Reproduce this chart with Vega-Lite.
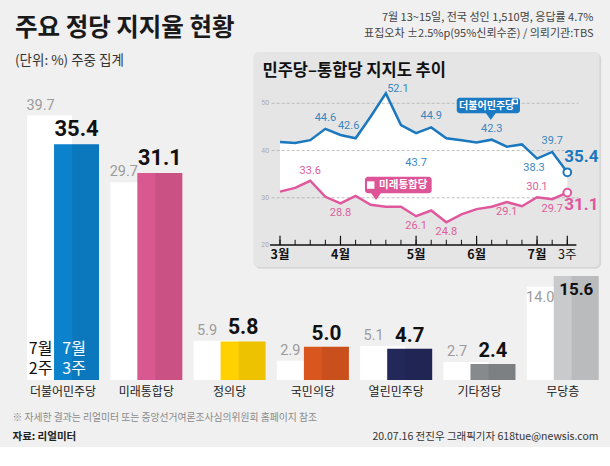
{
  "$schema": "https://vega.github.io/schema/vega-lite/v6.json",
  "width": 610,
  "height": 466,
  "autosize": "none",
  "padding": 0,
  "background": "#f0f0f0",
  "config": {"view": {"stroke": null}, "font": "Noto Sans CJK KR", "text": {"font": "Noto Sans CJK KR"}},
  "title": {
    "text": "주요 정당 지지율 현황",
    "subtitle": "(단위: %) 주중 집계",
    "anchor": "start",
    "frame": "group",
    "orient": "top",
    "offset": -68,
    "dx": 15,
    "font": "Noto Sans CJK KR",
    "fontSize": 24.5,
    "fontWeight": "bold",
    "color": "#1a1a1a",
    "subtitleFont": "Noto Sans CJK KR",
    "subtitleFontSize": 13.5,
    "subtitleFontWeight": "normal",
    "subtitleColor": "#333333",
    "subtitlePadding": 12
  },
  "datasets": {
    "bars": [
      {"party": "더불어민주당", "w2": 39.7, "w3": 35.4},
      {"party": "미래통합당", "w2": 29.7, "w3": 31.1},
      {"party": "정의당", "w2": 5.9, "w3": 5.8},
      {"party": "국민의당", "w2": 2.9, "w3": 5.0},
      {"party": "열린민주당", "w2": 5.1, "w3": 4.7},
      {"party": "기타정당", "w2": 2.7, "w3": 2.4},
      {"party": "무당층", "w2": 14.0, "w3": 15.6}
    ],
    "trend": [
      {"idx": 0, "minju": 41.8, "tonghap": 31.3},
      {"idx": 1, "minju": 41.6, "tonghap": 32.1},
      {"idx": 2, "minju": 42.2, "tonghap": 33.6},
      {"idx": 3, "minju": 44.6, "tonghap": 30.2},
      {"idx": 4, "minju": 43.3, "tonghap": 28.8},
      {"idx": 5, "minju": 42.6, "tonghap": 30.4},
      {"idx": 6, "minju": 47.2, "tonghap": 28.5},
      {"idx": 7, "minju": 52.1, "tonghap": 28.1},
      {"idx": 8, "minju": 45.4, "tonghap": 28.1},
      {"idx": 9, "minju": 43.7, "tonghap": 26.1},
      {"idx": 10, "minju": 44.9, "tonghap": 27.3},
      {"idx": 11, "minju": 42.6, "tonghap": 24.8},
      {"idx": 12, "minju": 42.2, "tonghap": 26.5},
      {"idx": 13, "minju": 41.7, "tonghap": 27.6},
      {"idx": 14, "minju": 42.3, "tonghap": 28.1},
      {"idx": 15, "minju": 40.8, "tonghap": 29.1},
      {"idx": 16, "minju": 41.3, "tonghap": 28.2},
      {"idx": 17, "minju": 38.3, "tonghap": 30.1},
      {"idx": 18, "minju": 39.7, "tonghap": 29.7},
      {"idx": 19, "minju": 35.4, "tonghap": 31.1}
    ],
    "months": [
      {"idx": 0, "label": "3월"},
      {"idx": 4, "label": "4월"},
      {"idx": 9, "label": "5월"},
      {"idx": 13, "label": "6월"},
      {"idx": 17, "label": "7월"},
      {"idx": 19, "label": "3주"}
    ],
    "grid": [{"v": 20}, {"v": 30}, {"v": 40}, {"v": 50}],
    "one": [{"a": 0}]
  },
  "resolve": {
    "scale": {"x": "independent", "y": "independent"},
    "axis": {"x": "independent", "y": "independent"}
  },
  "layer": [
    {
      "data": {"name": "bars"},
      "resolve": {"axis": {"x": "independent", "y": "independent"}},
      "layer": [
        {
          "data": {"name": "one"},
          "mark": {"type": "rect", "color": "#ffffff"},
          "encoding": {
            "y": {"datum": -10.06, "type": "quantitative", "scale": {"domain": [-12.913, 57.06], "nice": false, "zero": false},
              "axis": {"orient": "left", "labels": false, "ticks": false, "domain": false, "grid": false,
                "title": "자료: 리얼미터", "titleAngle": 0, "titleX": 12, "titleY": 436, "titleAlign": "left", "titleBaseline": "middle",
                "titleFont": "Noto Sans CJK KR", "titleFontSize": 10.5, "titleFontWeight": "bold", "titleColor": "#222222", "zindex": 1}},
            "y2": {"datum": -30}
          }
        },
        {
          "mark": {"type": "bar", "color": "#ffffff", "width": 45, "xOffset": -13.5},
          "encoding": {
            "x": {"field": "party", "type": "nominal", "sort": null,
              "scale": {"domain": ["더불어민주당", "미래통합당", "정의당", "국민의당", "열린민주당", "기타정당", "무당층"], "range": [21.4, 604.4], "paddingInner": 0, "paddingOuter": 0},
              "axis": {"orient": "bottom", "offset": -86, "domain": false, "ticks": false, "grid": false, "labelAngle": 0, "labelPadding": 6,
                "labelFont": "Noto Sans CJK KR", "labelFontSize": 12, "labelColor": "#222222",
                "title": "※ 자세한 결과는 리얼미터 또는 중앙선거여론조사심의위원회 홈페이지 참조", "titleX": 12, "titleY": 37, "titleAlign": "left", "titleBaseline": "middle",
                "titleFont": "Noto Sans CJK KR", "titleFontSize": 9.8, "titleFontWeight": "normal", "titleColor": "#8a8a8a", "zindex": 1}},
            "y": {"field": "w2", "type": "quantitative", "scale": {"domain": [-12.913, 57.06], "nice": false, "zero": false}, "axis": null}
          }
        },
        {
          "mark": {"type": "bar", "width": 45, "xOffset": 13.5},
          "encoding": {
            "x": {"field": "party", "type": "nominal", "sort": null, "axis": null},
            "y": {"field": "w3", "type": "quantitative", "axis": null},
            "color": {"field": "party", "type": "nominal", "legend": null,
              "scale": {"domain": ["더불어민주당", "미래통합당", "정의당", "국민의당", "열린민주당", "기타정당", "무당층"],
                "range": ["#0c82cc", "#d9588f", "#ffd100", "#d9561f", "#23285b", "#878a8c", "#c9cacc"]}}
          }
        },
        {
          "mark": {"type": "bar", "width": 27, "xOffset": 22.5, "color": "#000000", "opacity": 0.07},
          "encoding": {
            "x": {"field": "party", "type": "nominal", "sort": null, "axis": null},
            "y": {"field": "w3", "type": "quantitative", "axis": null}
          }
        },
        {
          "transform": [{"filter": "datum.party !== '무당층'"}],
          "mark": {"type": "text", "xOffset": -22.5, "dy": -3, "baseline": "bottom", "font": "Roboto", "fontSize": 14.5, "color": "#9b9b9b"},
          "encoding": {
            "x": {"field": "party", "type": "nominal", "sort": null, "axis": null},
            "y": {"field": "w2", "type": "quantitative", "axis": null},
            "text": {"field": "w2", "type": "quantitative", "format": ".1f"}
          }
        },
        {
          "transform": [{"filter": "datum.party === '무당층'"}],
          "mark": {"type": "text", "xOffset": -22.5, "dy": 4, "baseline": "top", "font": "Roboto", "fontSize": 14.5, "color": "#9b9b9b"},
          "encoding": {
            "x": {"field": "party", "type": "nominal", "sort": null, "axis": null},
            "y": {"field": "w2", "type": "quantitative", "axis": null},
            "text": {"field": "w2", "type": "quantitative", "format": ".1f"}
          }
        },
        {
          "transform": [{"filter": "datum.party !== '무당층'"}],
          "mark": {"type": "text", "xOffset": 13.5, "dy": -3, "baseline": "bottom", "font": "Roboto", "fontWeight": "bold", "color": "#111111"},
          "encoding": {
            "x": {"field": "party", "type": "nominal", "sort": null, "axis": null},
            "y": {"field": "w3", "type": "quantitative", "axis": null},
            "text": {"field": "w3", "type": "quantitative", "format": ".1f"},
            "size": {"field": "party", "type": "ordinal", "legend": null,
              "scale": {"domain": ["더불어민주당", "미래통합당", "정의당", "국민의당", "열린민주당", "기타정당"], "range": [22, 20, 17, 17, 17, 17]}}
          }
        },
        {
          "transform": [{"filter": "datum.party === '무당층'"}],
          "mark": {"type": "text", "xOffset": 13.5, "dy": 6, "baseline": "top", "font": "Roboto", "fontWeight": "bold", "fontSize": 17, "color": "#111111"},
          "encoding": {
            "x": {"field": "party", "type": "nominal", "sort": null, "axis": null},
            "y": {"field": "w3", "type": "quantitative", "axis": null},
            "text": {"field": "w3", "type": "quantitative", "format": ".1f"}
          }
        },
        {
          "transform": [{"filter": "datum.party === '더불어민주당'"}],
          "mark": {"type": "text", "xOffset": -22.5, "dy": -23, "baseline": "bottom", "lineHeight": 20, "fontSize": 16, "color": "#111111", "text": ["7월", "2주"]},
          "encoding": {
            "x": {"field": "party", "type": "nominal", "sort": null, "axis": null},
            "y": {"datum": 0, "type": "quantitative", "axis": null}
          }
        },
        {
          "transform": [{"filter": "datum.party === '더불어민주당'"}],
          "mark": {"type": "text", "xOffset": 11, "dy": -23, "baseline": "bottom", "lineHeight": 20, "fontSize": 16, "color": "#ffffff", "text": ["7월", "3주"]},
          "encoding": {
            "x": {"field": "party", "type": "nominal", "sort": null, "axis": null},
            "y": {"datum": 0, "type": "quantitative", "axis": null}
          }
        }
      ]
    },
    {
      "data": {"name": "trend"},
      "resolve": {"axis": {"x": "independent", "y": "independent"}},
      "layer": [
        {
          "data": {"name": "one"},
          "mark": {"type": "rect", "color": "#d6d6d6", "cornerRadius": 6},
          "encoding": {
            "x": {"datum": -1.68, "type": "quantitative", "scale": {"domain": [0, 19], "range": [280, 567.3], "nice": false, "zero": false},
              "axis": {"orient": "top", "labels": false, "ticks": false, "domain": false, "grid": false,
                "title": "20.07.16 전진우 그래픽기자 618tue@newsis.com", "titleX": 598, "titleY": 436, "titleAlign": "right", "titleBaseline": "middle",
                "titleFont": "Noto Sans CJK KR", "titleFontSize": 10.5, "titleFontWeight": "normal", "titleColor": "#333333", "zindex": 1}},
            "x2": {"datum": 21.24},
            "y": {"datum": 60.7, "type": "quantitative", "scale": {"domain": [20, 50], "range": [245, 103.3], "nice": false, "zero": false},
              "axis": {"orient": "right", "labels": false, "ticks": false, "domain": false, "grid": false,
                "title": "민주당–통합당 지지도 추이", "titleAngle": 0, "titleX": -348, "titleY": 70, "titleAlign": "left", "titleBaseline": "middle",
                "titleFont": "Noto Sans CJK KR", "titleFontSize": 16.5, "titleFontWeight": "bold", "titleColor": "#111111", "zindex": 1}},
            "y2": {"datum": 14.95}
          }
        },
        {
          "data": {"name": "one"},
          "mark": {"type": "rect", "color": "#e5e5e5", "cornerRadius": 5},
          "encoding": {
            "x": {"datum": -1.766, "type": "quantitative", "axis": null},
            "x2": {"datum": 21.12},
            "y": {"datum": 60.87, "type": "quantitative", "axis": null},
            "y2": {"datum": 15.34}
          }
        },
        {
          "mark": {"type": "area", "color": "#ffffff", "opacity": 1},
          "encoding": {
            "x": {"field": "idx", "type": "quantitative", "axis": null},
            "y": {"field": "minju", "type": "quantitative", "axis": null},
            "y2": {"field": "tonghap"}
          }
        },
        {
          "data": {"name": "grid"},
          "transform": [{"filter": "datum.v > 20"}],
          "mark": {"type": "rule", "color": "#b0b0b0", "strokeWidth": 0.8, "strokeDash": [3, 2]},
          "encoding": {
            "x": {"datum": -0.55, "type": "quantitative", "axis": null},
            "x2": {"datum": 19.74},
            "y": {"field": "v", "type": "quantitative", "axis": null}
          }
        },
        {
          "data": {"name": "grid"},
          "mark": {"type": "text", "align": "right", "fontSize": 7, "color": "#aaaaaa", "font": "Roboto"},
          "encoding": {
            "x": {"datum": -0.72, "type": "quantitative", "axis": null},
            "y": {"field": "v", "type": "quantitative", "axis": null},
            "text": {"field": "v", "type": "quantitative"}
          }
        },
        {
          "data": {"name": "one"},
          "mark": {"type": "rule", "color": "#111111", "strokeWidth": 1.3},
          "encoding": {
            "x": {"datum": -0.66, "type": "quantitative", "axis": null},
            "x2": {"datum": 19.6},
            "y": {"datum": 20, "type": "quantitative", "axis": null}
          }
        },
        {
          "mark": {"type": "rule", "color": "#111111", "strokeWidth": 1},
          "encoding": {
            "x": {"field": "idx", "type": "quantitative", "axis": null},
            "y": {"datum": 20, "type": "quantitative", "axis": null},
            "y2": {"datum": 21.1}
          }
        },
        {
          "data": {"name": "months"},
          "mark": {"type": "rule", "color": "#111111", "strokeWidth": 1.2},
          "encoding": {
            "x": {"field": "idx", "type": "quantitative", "axis": null},
            "y": {"datum": 20, "type": "quantitative", "axis": null},
            "y2": {"datum": 21.95}
          }
        },
        {
          "data": {"name": "months"},
          "transform": [{"filter": "datum.label !== '3주'"}],
          "mark": {"type": "text", "baseline": "middle", "dy": 9.5, "fontSize": 12.5, "fontWeight": "bold", "color": "#111111"},
          "encoding": {
            "x": {"field": "idx", "type": "quantitative", "axis": null},
            "y": {"datum": 20, "type": "quantitative", "axis": null},
            "text": {"field": "label"}
          }
        },
        {
          "data": {"name": "months"},
          "transform": [{"filter": "datum.label === '3주'"}],
          "mark": {"type": "text", "baseline": "middle", "dy": 9.5, "fontSize": 12.5, "fontWeight": "normal", "color": "#111111"},
          "encoding": {
            "x": {"field": "idx", "type": "quantitative", "axis": null},
            "y": {"datum": 20, "type": "quantitative", "axis": null},
            "text": {"field": "label"}
          }
        },
        {
          "mark": {"type": "line", "color": "#1b78be", "strokeWidth": 2.5},
          "encoding": {
            "x": {"field": "idx", "type": "quantitative", "axis": null},
            "y": {"field": "minju", "type": "quantitative", "axis": null}
          }
        },
        {
          "mark": {"type": "line", "color": "#e0579d", "strokeWidth": 2.5},
          "encoding": {
            "x": {"field": "idx", "type": "quantitative", "axis": null},
            "y": {"field": "tonghap", "type": "quantitative", "axis": null}
          }
        },
        {
          "transform": [{"filter": "datum.idx === 19"}],
          "mark": {"type": "point", "filled": true, "fill": "#ffffff", "stroke": "#1b78be", "strokeWidth": 2, "size": 60, "opacity": 1},
          "encoding": {
            "x": {"field": "idx", "type": "quantitative", "axis": null},
            "y": {"field": "minju", "type": "quantitative", "axis": null}
          }
        },
        {
          "transform": [{"filter": "datum.idx === 19"}],
          "mark": {"type": "point", "filled": true, "fill": "#ffffff", "stroke": "#e0579d", "strokeWidth": 2, "size": 60, "opacity": 1},
          "encoding": {
            "x": {"field": "idx", "type": "quantitative", "axis": null},
            "y": {"field": "tonghap", "type": "quantitative", "axis": null}
          }
        },
        {
          "transform": [{"filter": {"field": "idx", "oneOf": [3, 10, 14, 18]}}],
          "mark": {"type": "text", "dy": -11, "fontSize": 11, "color": "#3a86c0", "font": "Roboto"},
          "encoding": {
            "x": {"field": "idx", "type": "quantitative", "axis": null},
            "y": {"field": "minju", "type": "quantitative", "axis": null},
            "text": {"field": "minju", "type": "quantitative", "format": ".1f"}
          }
        },
        {
          "transform": [{"filter": "datum.idx === 5"}],
          "mark": {"type": "text", "dy": -12, "dx": -7, "fontSize": 11, "color": "#3a86c0", "font": "Roboto"},
          "encoding": {
            "x": {"field": "idx", "type": "quantitative", "axis": null},
            "y": {"field": "minju", "type": "quantitative", "axis": null},
            "text": {"field": "minju", "type": "quantitative", "format": ".1f"}
          }
        },
        {
          "transform": [{"filter": "datum.idx === 7"}],
          "mark": {"type": "text", "dy": -4, "dx": 12, "fontSize": 11, "color": "#3a86c0", "font": "Roboto"},
          "encoding": {
            "x": {"field": "idx", "type": "quantitative", "axis": null},
            "y": {"field": "minju", "type": "quantitative", "axis": null},
            "text": {"field": "minju", "type": "quantitative", "format": ".1f"}
          }
        },
        {
          "transform": [{"filter": "datum.idx === 17"}],
          "mark": {"type": "text", "dy": 9, "dx": -3, "fontSize": 11, "color": "#3a86c0", "font": "Roboto"},
          "encoding": {
            "x": {"field": "idx", "type": "quantitative", "axis": null},
            "y": {"field": "minju", "type": "quantitative", "axis": null},
            "text": {"field": "minju", "type": "quantitative", "format": ".1f"}
          }
        },
        {
          "transform": [{"filter": "datum.idx === 9"}],
          "mark": {"type": "text", "dy": 30, "fontSize": 11, "color": "#3a86c0", "font": "Roboto"},
          "encoding": {
            "x": {"field": "idx", "type": "quantitative", "axis": null},
            "y": {"field": "minju", "type": "quantitative", "axis": null},
            "text": {"field": "minju", "type": "quantitative", "format": ".1f"}
          }
        },
        {
          "transform": [{"filter": {"field": "idx", "oneOf": [2, 17]}}],
          "mark": {"type": "text", "dy": -10, "fontSize": 11, "color": "#df5d9c", "font": "Roboto"},
          "encoding": {
            "x": {"field": "idx", "type": "quantitative", "axis": null},
            "y": {"field": "tonghap", "type": "quantitative", "axis": null},
            "text": {"field": "tonghap", "type": "quantitative", "format": ".1f"}
          }
        },
        {
          "transform": [{"filter": {"field": "idx", "oneOf": [4, 9, 11, 15, 18]}}],
          "mark": {"type": "text", "dy": 10, "fontSize": 11, "color": "#df5d9c", "font": "Roboto"},
          "encoding": {
            "x": {"field": "idx", "type": "quantitative", "axis": null},
            "y": {"field": "tonghap", "type": "quantitative", "axis": null},
            "text": {"field": "tonghap", "type": "quantitative", "format": ".1f"}
          }
        },
        {
          "transform": [{"filter": "datum.idx === 19"}],
          "mark": {"type": "text", "dy": -15, "dx": 14, "fontSize": 17, "fontWeight": "bold", "color": "#1b78be", "font": "Roboto"},
          "encoding": {
            "x": {"field": "idx", "type": "quantitative", "axis": null},
            "y": {"field": "minju", "type": "quantitative", "axis": null},
            "text": {"field": "minju", "type": "quantitative", "format": ".1f"}
          }
        },
        {
          "transform": [{"filter": "datum.idx === 19"}],
          "mark": {"type": "text", "dy": 12, "dx": 14, "fontSize": 17, "fontWeight": "bold", "color": "#e0579d", "font": "Roboto"},
          "encoding": {
            "x": {"field": "idx", "type": "quantitative", "axis": null},
            "y": {"field": "tonghap", "type": "quantitative", "axis": null},
            "text": {"field": "tonghap", "type": "quantitative", "format": ".1f"}
          }
        },
        {
          "data": {"name": "one"},
          "mark": {"type": "rect", "color": "#1a7ac3", "cornerRadius": 3},
          "encoding": {
            "x": {"datum": 11.69, "type": "quantitative", "axis": null},
            "x2": {"datum": 15.87},
            "y": {"datum": 51.19, "type": "quantitative", "axis": null},
            "y2": {"datum": 47.88}
          }
        },
        {
          "data": {"name": "one"},
          "mark": {"type": "point", "shape": "M-1,-0.7L1,-0.7L0,0.7Z", "size": 100, "filled": true, "color": "#1a7ac3", "opacity": 1},
          "encoding": {
            "x": {"datum": 13.94, "type": "quantitative", "axis": null},
            "y": {"datum": 47.2, "type": "quantitative", "axis": null}
          }
        },
        {
          "data": {"name": "one"},
          "mark": {"type": "text", "text": "더불어민주당", "fontSize": 10, "fontWeight": "bold", "color": "#ffffff"},
          "encoding": {
            "x": {"datum": 13.67, "type": "quantitative", "axis": null},
            "y": {"datum": 49.5, "type": "quantitative", "axis": null}
          }
        },
        {
          "data": {"name": "one"},
          "mark": {"type": "point", "shape": "square", "size": 20, "filled": false, "stroke": "#ffffff", "strokeWidth": 1.2, "opacity": 1},
          "encoding": {
            "x": {"datum": 15.55, "type": "quantitative", "axis": null},
            "y": {"datum": 50.4, "type": "quantitative", "axis": null}
          }
        },
        {
          "data": {"name": "one"},
          "mark": {"type": "rect", "color": "#dd5597", "cornerRadius": 3},
          "encoding": {
            "x": {"datum": 5.62, "type": "quantitative", "axis": null},
            "x2": {"datum": 10.03},
            "y": {"datum": 34.45, "type": "quantitative", "axis": null},
            "y2": {"datum": 30.93}
          }
        },
        {
          "data": {"name": "one"},
          "mark": {"type": "point", "shape": "M-1,-0.7L1,-0.7L0,0.7Z", "size": 100, "filled": true, "color": "#dd5597", "opacity": 1},
          "encoding": {
            "x": {"datum": 6.35, "type": "quantitative", "axis": null},
            "y": {"datum": 30.25, "type": "quantitative", "axis": null}
          }
        },
        {
          "data": {"name": "one"},
          "mark": {"type": "point", "shape": "square", "size": 55, "filled": true, "color": "#ffffff", "opacity": 1},
          "encoding": {
            "x": {"datum": 6.0, "type": "quantitative", "axis": null},
            "y": {"datum": 32.69, "type": "quantitative", "axis": null}
          }
        },
        {
          "data": {"name": "one"},
          "mark": {"type": "text", "text": "미래통합당", "fontSize": 10.5, "fontWeight": "bold", "color": "#ffffff"},
          "encoding": {
            "x": {"datum": 8.15, "type": "quantitative", "axis": null},
            "y": {"datum": 32.69, "type": "quantitative", "axis": null}
          }
        }
      ]
    },
    {
      "data": {"name": "one"},
      "mark": {"type": "text", "text": ""},
      "encoding": {
        "x": {"field": "a", "type": "quantitative", "axis": null},
        "y": {"field": "a", "type": "quantitative",
          "axis": {"orient": "left", "labels": false, "ticks": false, "domain": false, "grid": false,
            "title": ["7월 13~15일, 전국 성인 1,510명, 응답률 4.7%", "표집오차 ±2.5%p(95%신뢰수준) / 의뢰기관:TBS"],
            "titleAngle": 0, "titleX": 593, "titleY": 11, "titleAlign": "right", "titleBaseline": "top", "titleLineHeight": 16,
            "titleFont": "Noto Sans CJK KR", "titleFontSize": 11, "titleFontWeight": "normal", "titleColor": "#444444", "zindex": 1}}
      }
    }
  ]
}
